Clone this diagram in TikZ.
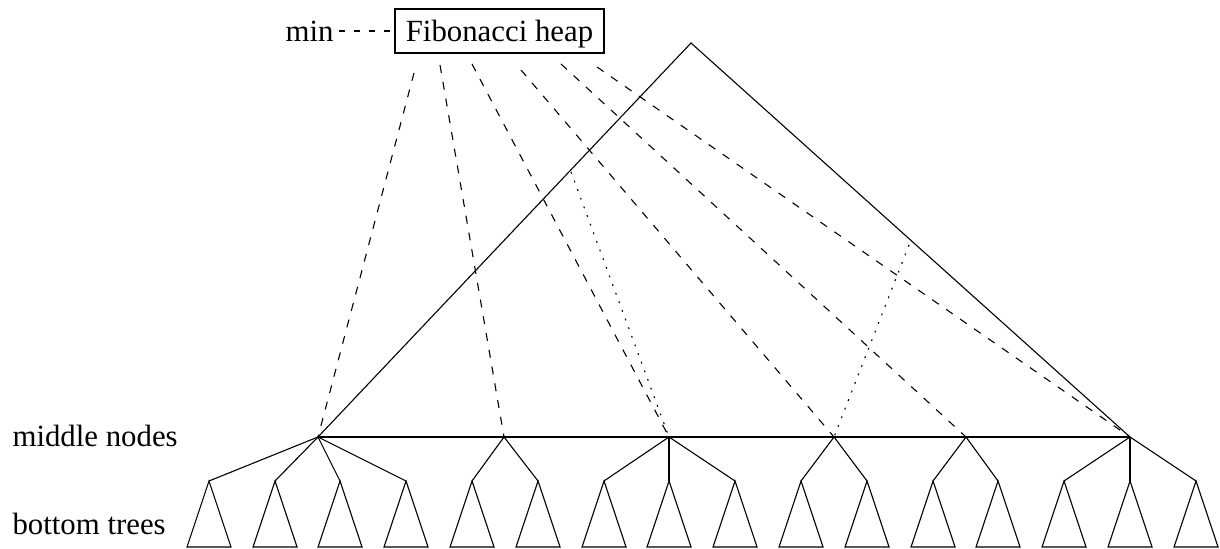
\documentclass[tikz,border=0pt]{standalone}
\usepackage{fontspec}
\setmainfont{Liberation Serif}
\begin{document}
\begin{tikzpicture}[x=0.5pt,y=-0.5pt,
  every path/.style={line width=0.55pt},
  lbl/.style={inner sep=0pt,anchor=base west,font=\fontsize{15.4}{18}\selectfont},
  heapbox/.style={draw,inner xsep=0pt,inner ysep=0pt,minimum width=104.5pt,
     text height=16.5pt,text depth=5.5pt,font=\fontsize{15.4}{18}\selectfont},
  ptr/.style={dash pattern=on 4pt off 4.5pt},
  minptr/.style={dash pattern=on 3pt off 4.5pt},
  dotln/.style={dash pattern=on 0.9pt off 3.7pt}]
\useasboundingbox (0,0) rectangle (1220,549);
% labels
\node[lbl] (minlbl) at (285,42) {min};
\node[heapbox] (fh) at (499.5,31) {Fibonacci heap};
\node[lbl] (midlbl) at (12,447) {middle nodes};
\node[lbl] (botlbl) at (12,535) {bottom trees};
% big triangle
\coordinate (apex) at (691,43);
\coordinate (m1) at (318,437);
\coordinate (m2) at (504,437);
\coordinate (m3) at (669,437);
\coordinate (m4) at (834,437);
\coordinate (m5) at (966,437);
\coordinate (m6) at (1130,437);
\draw (m1) -- (apex) -- (m6);
\draw (m1) -- (m6);
% bottom trees
\foreach \i/\x in {1/209,2/275,3/340,4/406,5/472,6/538,7/604,8/669,9/735,10/801,11/867,12/933,13/998,14/1064,15/1130,16/1196}{
  \coordinate (b\i) at (\x,481);
  \draw (b\i) -- ++(-22,66) -- ++(44,0) -- cycle;
}
\foreach \m/\b in {m1/b1,m1/b2,m1/b3,m1/b4,m2/b5,m2/b6,m3/b7,m3/b8,m3/b9,m4/b10,m4/b11,m5/b12,m5/b13,m6/b14,m6/b15,m6/b16}{
  \draw (\m) -- (\b);
}
% min pointer
\coordinate (minS) at (339,31);
\draw[minptr] (minS) -- (fh.west);
% heap pointers
\coordinate (p1) at (414,73);
\coordinate (p2) at (440,65);
\coordinate (p3) at (472,64);
\coordinate (p4) at (521,70);
\coordinate (p5) at (561,64);
\coordinate (p6) at (597,67);
\draw[ptr] (p1) -- (m1);
\draw[ptr] (p2) -- (m2);
\draw[ptr] (p3) -- (m3);
\draw[ptr] (p4) -- (m4);
\draw[ptr] (p5) -- (m5);
\draw[ptr] (p6) -- (m6);
% dotted
\coordinate (d1) at (571,172);
\coordinate (d2) at (909,245);
\draw[dotln] (d1) -- (m3);
\draw[dotln] (d2) -- (m4);
\end{tikzpicture}
\end{document}
